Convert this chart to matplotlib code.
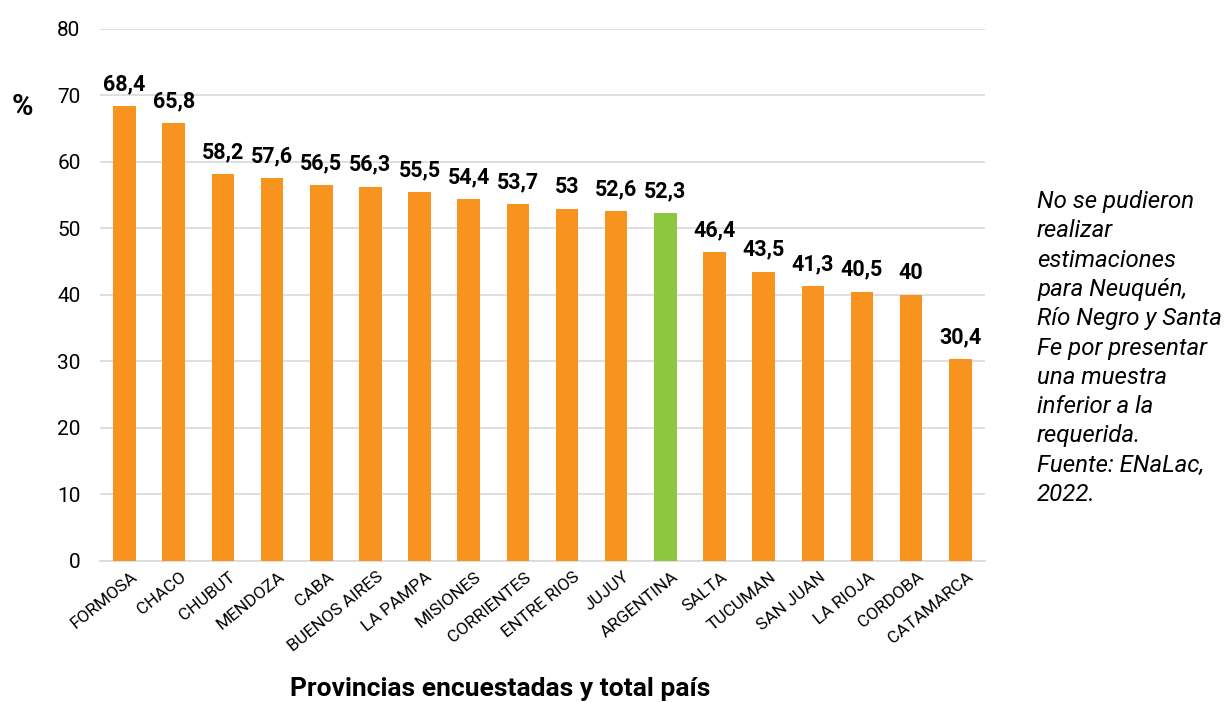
import matplotlib
matplotlib.use("Agg")
import matplotlib.pyplot as plt
import matplotlib.transforms as mtransforms
import numpy as np

provincias = ["FORMOSA", "CHACO", "CHUBUT", "MENDOZA", "CABA", "BUENOS AIRES",
              "LA PAMPA", "MISIONES", "CORRIENTES", "ENTRE RIOS", "JUJUY",
              "ARGENTINA", "SALTA", "TUCUMAN", "SAN JUAN", "LA RIOJA",
              "CORDOBA", "CATAMARCA"]
valores = [68.4, 65.8, 58.2, 57.6, 56.5, 56.3, 55.5, 54.4, 53.7, 53.0, 52.6,
           52.3, 46.4, 43.5, 41.3, 40.5, 40.0, 30.4]
etiquetas = ["68,4", "65,8", "58,2", "57,6", "56,5", "56,3", "55,5", "54,4",
             "53,7", "53", "52,6", "52,3", "46,4", "43,5", "41,3", "40,5",
             "40", "30,4"]
y_ticks = [0, 10, 20, 30, 40, 50, 60, 70, 80]

naranja = "#F7931E"
verde = "#8DC63F"

plt.rcParams["font.family"] = ["Roboto", "DejaVu Sans"]

fig = plt.figure(figsize=(12.25, 7.02), dpi=100)
ax = fig.add_axes([0.0816, 0.2009, 0.7224, 0.7578])

x = np.arange(len(provincias))
colores = [verde if p == "ARGENTINA" else naranja for p in provincias]
ax.bar(x, valores, width=0.46, color=colores, zorder=3)

for xi, v, t in zip(x, valores, etiquetas):
    ax.text(xi, v + 2.4, t, ha="center", va="baseline", fontsize=15.5,
            fontweight="bold", color="black")

ax.set_xlim(-0.5, len(provincias) - 0.5)
ax.set_ylim(0, 80)
ax.set_yticks(y_ticks)
ax.set_yticklabels([str(v) for v in y_ticks], fontsize=15)
ax.yaxis.grid(True, color="#d9d9d9", linewidth=1.2, zorder=0)
ax.set_axisbelow(True)
for s in ["top", "right", "left"]:
    ax.spines[s].set_visible(False)
ax.spines["bottom"].set_color("#d9d9d9")
ax.spines["bottom"].set_linewidth(1.2)
ax.tick_params(axis="both", length=0)
ax.tick_params(axis="y", pad=14)

ax.set_xticks(x)
ax.set_xticklabels(provincias, rotation=39, ha="right",
                   rotation_mode="anchor", fontsize=12.5)
ax.tick_params(axis="x", pad=6)
shift = mtransforms.ScaledTranslation(6 / 100, 0, fig.dpi_scale_trans)
for lbl in ax.get_xticklabels():
    lbl.set_transform(lbl.get_transform() + shift)

fig.text(22.5 / 1225, 1 - 107 / 702, "%", fontsize=21, fontweight="bold",
         ha="center", va="center")
fig.text(0.408, 0.008, "Provincias encuestadas y total país", fontsize=19,
         fontweight="bold", ha="center", va="baseline")

nota = ("No se pudieron\nrealizar\nestimaciones\npara Neuquén,\n"
        "Río Negro y Santa\nFe por presentar\nuna muestra\ninferior a la\n"
        "requerida.\nFuente: ENaLac,\n2022.")
fig.text(1037 / 1225, 1 - 190 / 702, nota, fontsize=17.3, style="italic",
         ha="left", va="top", linespacing=1.35)

fig.savefig("out.png", dpi=100, facecolor="white")
